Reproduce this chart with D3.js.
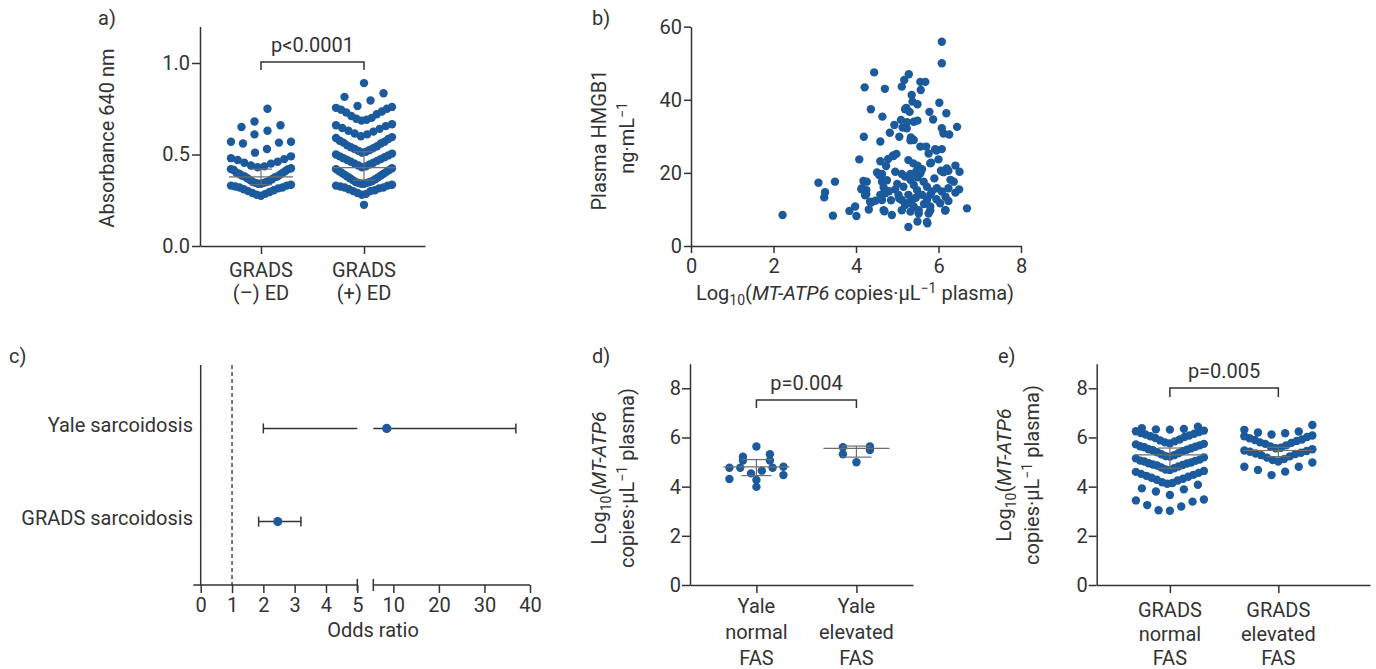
<!DOCTYPE html>
<html>
<head>
<meta charset="utf-8">
<script src="https://cdn.jsdelivr.net/npm/d3@7"></script>
<style>
  body { margin: 0; background: #fff; }
  svg text { font-family: Roboto, "DejaVu Sans", sans-serif; }
</style>
</head>
<body>
<div id="chart"></div>
<script>
// ---- panel a: absorbance per group
const absGroups = [["GRADS", "(\u2013) ED"], ["GRADS", "(+) ED"]];
const absNegED = [0.75, 0.68, 0.66, 0.65, 0.63, 0.61, 0.57, 0.57, 0.565, 0.56, 0.53, 0.51, 0.49, 0.48,
  0.475, 0.47, 0.46, 0.455, 0.45, 0.44, 0.435, 0.43, 0.425, 0.42, 0.42,
  0.415, 0.41, 0.40, 0.40, 0.395, 0.39, 0.385, 0.38, 0.38, 0.375,
  0.37, 0.365, 0.36, 0.355, 0.35, 0.35, 0.345, 0.345, 0.34, 0.34,
  0.335, 0.33, 0.33, 0.325, 0.32, 0.32, 0.315, 0.31,
  0.305, 0.30, 0.295, 0.29, 0.285, 0.28, 0.275];
const absPosED = [0.89, 0.835, 0.815, 0.795, 0.755,
  0.765, 0.76, 0.75, 0.745, 0.735, 0.73, 0.72, 0.71, 0.70, 0.695, 0.69, 0.685,
  0.665, 0.66, 0.655, 0.645, 0.64, 0.63, 0.625, 0.615, 0.61, 0.60, 0.595, 0.59, 0.585,
  0.575, 0.57, 0.565, 0.56, 0.55, 0.545, 0.54, 0.535, 0.53, 0.525, 0.52, 0.515, 0.51,
  0.505, 0.50, 0.495, 0.49, 0.485, 0.48, 0.475, 0.47, 0.465, 0.46, 0.455, 0.45, 0.445,
  0.44, 0.435, 0.43, 0.425, 0.42, 0.415, 0.41, 0.405, 0.40, 0.395, 0.39, 0.385,
  0.38, 0.375, 0.37, 0.365, 0.36, 0.355, 0.35, 0.35, 0.345, 0.345, 0.34, 0.34,
  0.335, 0.33, 0.33, 0.325, 0.32, 0.32, 0.315, 0.31, 0.305, 0.30,
  0.29, 0.285, 0.28, 0.30, 0.225];
const absMedian = [0.378, 0.428];
const absQ1 = [0.335, 0.36];
const absQ3 = [0.42, 0.515];
const absTicks = [0, 0.5, 1.0];

// ---- panel b: HMGB1 vs MT-ATP6 (x = log10 copies, y = ng/mL)
const hmgbPoints = [[2.22, 8.5], [3.09, 17.3], [3.25, 14.7], [3.23, 13.3], [3.49, 17.6], [3.44, 8.3],
  [3.84, 9.6], [3.98, 10.8], [4.01, 8.2], [4.08, 23.7], [4.21, 43.4], [4.19, 29.9], [4.13, 15.5],
  [4.18, 17.8], [4.25, 14.2], [4.31, 10.0], [4.36, 37.4], [4.44, 47.5], [4.37, 11.9], [4.59, 28.6],
  [4.64, 35.4], [4.70, 43.0], [4.56, 19.4], [4.63, 19.7], [4.67, 16.0], [4.59, 23.2], [4.73, 21.9],
  [4.82, 31.0], [4.93, 33.1], [4.87, 8.5], [4.69, 9.5], [4.91, 24.6], [4.98, 25.2], [5.05, 29.9],
  [5.09, 34.5], [5.11, 43.6], [5.17, 45.4], [5.28, 47.0], [5.19, 37.4], [5.30, 36.7], [5.35, 41.3],
  [5.37, 39.5], [5.49, 38.8], [5.56, 44.9], [5.68, 44.9], [5.57, 42.7], [5.40, 34.0], [5.49, 34.3],
  [5.13, 32.4], [5.23, 32.2], [5.33, 29.7], [5.40, 29.0], [5.56, 27.2], [5.70, 27.2], [5.78, 36.7],
  [5.87, 34.6], [6.02, 39.2], [6.08, 55.9], [6.08, 50.0], [6.19, 36.3], [6.08, 32.2], [6.12, 30.8],
  [6.26, 30.5], [6.45, 32.6], [6.08, 26.5], [5.95, 26.1], [5.76, 25.3], [6.00, 23.7], [5.80, 22.6],
  [6.41, 22.0], [6.51, 20.3], [6.20, 21.2], [6.06, 20.6], [6.69, 10.3], [5.27, 5.2], [5.49, 6.7],
  [5.73, 6.2], [5.76, 8.9], [5.80, 9.7], [6.16, 9.7], [6.24, 12.3], [6.41, 14.6], [6.50, 15.5],
  [6.37, 17.6], [6.24, 15.8],
  [5.22, 37.8], [5.24, 33.9], [5.32, 28.9], [5.92, 26.5], [5.82, 22.8], [4.78, 23.8], [4.90, 24.8],
  [5.27, 23.5], [5.39, 22.6], [5.49, 22.0], [5.60, 21.0], [5.46, 20.4], [5.32, 19.7], [6.12, 20.2],
  [6.24, 20.6], [4.95, 20.3], [5.11, 19.7], [5.19, 19.0], [4.51, 20.1], [4.63, 17.6], [4.26, 17.6],
  [4.14, 15.8], [4.25, 15.3], [4.22, 13.9], [4.34, 12.1], [4.47, 12.4], [4.59, 14.0], [4.71, 14.4],
  [4.63, 12.6], [4.67, 9.8], [4.95, 15.5], [5.03, 14.0], [5.11, 12.6], [5.19, 11.2], [5.11, 9.8],
  [5.32, 18.1], [5.40, 16.7], [5.49, 18.8], [5.56, 19.9], [5.64, 17.6], [5.72, 16.2], [5.48, 15.3],
  [5.27, 14.0], [5.36, 12.6], [5.24, 11.7], [5.40, 10.8], [5.52, 9.8], [5.52, 8.9], [5.32, 9.4],
  [5.60, 14.0], [5.72, 12.6], [5.80, 14.0], [5.84, 14.9], [5.96, 15.8], [6.08, 14.9], [6.17, 13.5],
  [5.80, 10.8], [6.04, 11.7], [6.17, 9.8], [5.72, 6.6], [6.29, 18.1],
  [5.00, 17.0], [5.15, 16.2], [5.05, 13.0], [4.85, 12.5], [4.80, 15.0], [5.65, 11.5], [5.90, 18.5],
  [5.95, 12.8], [4.75, 18.0], [5.45, 13.2]];
const hmgbXTicks = [0, 2, 4, 6, 8];
const hmgbYTicks = [0, 20, 40, 60];

// ---- panel c: odds ratios (broken axis 0-5 | 5.6-40)
const orCohorts = ["Yale sarcoidosis", "GRADS sarcoidosis"];
const orValue = [8.55, 2.46];
const orLow = [2.0, 1.85];
const orHigh = [36.9, 3.2];
const orTicksLow = [0, 1, 2, 3, 4, 5];
const orTicksHigh = [10, 20, 30, 40];

// ---- panel d: Yale FAS
const yaleGroups = [["Yale", "normal", "FAS"], ["Yale", "elevated", "FAS"]];
const yaleNormal = [5.63, 5.32, 5.22, 5.06, 5.06, 4.77, 4.77, 4.77, 4.81, 4.65, 4.54, 4.47, 4.27, 4.31, 3.99];
const yaleElevated = [5.49, 5.60, 5.63, 5.32, 4.99];
const yaleMedian = [4.8, 5.56];
const yaleQ1 = [4.45, 5.2];
const yaleQ3 = [5.1, 5.65];

// ---- panel e: GRADS FAS
const gradsGroups = [["GRADS", "normal", "FAS"], ["GRADS", "elevated", "FAS"]];
const gradsNormal = [6.44, 6.38, 6.33,
  6.35, 6.32, 6.28, 6.22, 6.18, 6.12, 6.08, 6.02, 5.98, 5.92, 5.88, 5.84, 5.80, 5.76, 6.25, 6.15, 6.05,
  5.74, 5.72, 5.68, 5.64, 5.60, 5.56, 5.52, 5.48, 5.44, 5.40, 5.36, 5.32, 5.28, 5.24, 5.22, 5.50, 5.62,
  5.19, 5.15, 5.10, 5.06, 5.02, 4.98, 4.94, 4.90, 4.86, 4.82, 4.78, 4.75, 5.05, 4.95, 4.88,
  4.70, 4.68, 4.64, 4.60, 4.56, 4.52, 4.48, 4.44, 4.40, 4.36, 4.32, 4.28, 4.25,
  4.18, 4.15, 4.12, 4.08, 3.93, 3.89, 3.80, 3.66,
  3.48, 3.44, 3.39, 3.25, 3.19, 3.04, 3.02];
const gradsElevated = [6.51, 6.31, 6.24,
  6.20, 6.17, 6.12, 6.08, 6.02, 5.97, 5.92, 5.86, 5.80, 5.74, 5.68, 5.63, 6.05, 5.90, 5.78,
  5.58, 5.56, 5.52, 5.47, 5.42, 5.38, 5.33, 5.28, 5.23, 5.18, 5.12, 5.08, 5.35, 5.45,
  5.02, 4.98, 4.81, 4.81, 4.68, 4.61, 4.47];
const gradsMedian = [5.29, 5.47];
const gradsQ1 = [4.75, 5.22];
const gradsQ3 = [5.57, 5.6];

const fasTicks = [0, 2, 4, 6, 8];

const dotColor = "#1b5a9c";
const ink = "#333333";
const summaryColor = "#6e6e6e";
const fontSize = 20;
const smallSize = 14;

const svg = d3.select("#chart").append("svg")
  .attr("width", 1376)
  .attr("height", 669);

function styleAxis(g) {
  g.selectAll(".domain, .tick line").attr("stroke", ink).attr("stroke-width", 1.5);
  g.selectAll(".tick text")
    .attr("font-size", fontSize)
    .attr("fill", ink)
    .attr("font-family", "Roboto, sans-serif");
}

// GraphPad-like column scatter: bin values, spread each bin outward from centre
function swarm(values, binSize, origin, maxWidth, maxStep) {
  const out = [];
  d3.groups(values, v => Math.floor((v - origin) / binSize)).forEach(([, vs]) => {
    vs = vs.slice().sort(d3.ascending);
    const n = vs.length;
    const step = n > 1 ? Math.min(maxStep, maxWidth / (n - 1)) : 0;
    const slots = d3.range(n).map(i => (i - (n - 1) / 2) * step)
      .sort((a, b) => Math.abs(a) - Math.abs(b) || a - b);
    vs.forEach((v, i) => out.push({ v: v, dx: slots[i] }));
  });
  return out;
}

function panelLetter(txt, x, y) {
  svg.append("text").attr("x", x).attr("y", y)
    .attr("font-size", fontSize).attr("fill", ink).text(txt);
}

// rotated two-line title for MT-ATP6 axes
function atp6Title(x1, x2, cy) {
  const t1 = svg.append("text")
    .attr("transform", `translate(${x1},${cy}) rotate(-90)`)
    .attr("text-anchor", "middle").attr("font-size", fontSize).attr("fill", ink);
  t1.append("tspan").text("Log");
  t1.append("tspan").attr("font-size", smallSize).attr("dy", 5).text("10");
  t1.append("tspan").attr("dy", -5).text("(");
  t1.append("tspan").attr("font-style", "italic").text("MT-ATP6");
  const t2 = svg.append("text")
    .attr("transform", `translate(${x2},${cy}) rotate(-90)`)
    .attr("text-anchor", "middle").attr("font-size", fontSize).attr("fill", ink);
  t2.append("tspan").text("copies\u00b7\u00b5L");
  t2.append("tspan").attr("font-size", smallSize).attr("dy", -7).text("\u22121");
  t2.append("tspan").attr("dy", 7).text(" plasma)");
}

function columnPanel(cfg) {
  const g = svg.append("g");
  const keys = cfg.labels.map((d, i) => "g" + i);
  const x = d3.scalePoint().domain(keys).range(cfg.xRange).padding(cfg.pad).align(cfg.align);
  const y = d3.scaleLinear().domain(cfg.yDomain).range(cfg.yRange);

  g.append("g")
    .attr("transform", `translate(${cfg.xRange[0]},0)`)
    .call(d3.axisLeft(y).tickValues(cfg.yTicks).tickFormat(cfg.fmt)
      .tickSize(8).tickSizeOuter(0).tickPadding(cfg.yPad))
    .call(styleAxis);

  g.append("g")
    .attr("transform", `translate(0,${cfg.yRange[0]})`)
    .call(d3.axisBottom(x).tickSize(8).tickSizeOuter(0).tickFormat(""))
    .call(styleAxis);

  cfg.labels.forEach((lines, i) => {
    const t = g.append("text").attr("text-anchor", "middle")
      .attr("font-size", fontSize).attr("fill", ink);
    lines.forEach((ln, j) => {
      t.append("tspan").attr("x", x(keys[i]))
        .attr("y", cfg.labelY + j * cfg.lineH).text(ln);
    });
  });

  cfg.series.forEach((vals, i) => {
    const pts = swarm(vals, cfg.bin, cfg.origin[i], cfg.maxWidth[i], cfg.maxStep);
    g.append("g").selectAll("circle")
      .data(pts)
      .join("circle")
      .attr("cx", d => x(keys[i]) + d.dx)
      .attr("cy", d => y(d.v))
      .attr("r", cfg.r)
      .attr("fill", dotColor);
  });

  // median with interquartile range
  keys.forEach((k, i) => {
    const cx = x(k);
    const s = g.append("g").attr("stroke", summaryColor).attr("stroke-width", 1.2);
    s.append("line").attr("x1", cx - cfg.medHalf).attr("x2", cx + cfg.medHalf)
      .attr("y1", y(cfg.median[i])).attr("y2", y(cfg.median[i]));
    s.append("line").attr("x1", cx).attr("x2", cx)
      .attr("y1", y(cfg.q1[i])).attr("y2", y(cfg.q3[i]));
    [cfg.q1[i], cfg.q3[i]].forEach(q => {
      s.append("line").attr("x1", cx - cfg.capHalf).attr("x2", cx + cfg.capHalf)
        .attr("y1", y(q)).attr("y2", y(q));
    });
  });

  // significance bracket
  const bx1 = x(keys[0]), bx2 = x(keys[1]);
  g.append("path")
    .attr("d", `M${bx1},${cfg.bracketY + cfg.leg}V${cfg.bracketY}H${bx2}V${cfg.bracketY + cfg.leg}`)
    .attr("fill", "none").attr("stroke", ink).attr("stroke-width", 1.5);
  g.append("text").attr("x", (bx1 + bx2) / 2).attr("y", cfg.pY)
    .attr("text-anchor", "middle").attr("font-size", fontSize).attr("fill", ink)
    .text(cfg.pText);
}

// ---------------- panel a
panelLetter("a)", 98, 25);
columnPanel({
  labels: absGroups, series: [absNegED, absPosED],
  median: absMedian, q1: absQ1, q3: absQ3,
  xRange: [200, 425], pad: 0.592, align: 0.5,
  yDomain: [0, 1.2], yRange: [246, 26.4], yTicks: absTicks, fmt: d3.format(".1f"), yPad: 2,
  bin: 0.085, origin: [0.255, 0.255], maxWidth: [60, 56], maxStep: 13, r: 4.2,
  medHalf: 32, capHalf: 11,
  labelY: 277, lineH: 23,
  bracketY: 62, leg: 8, pY: 52, pText: "p<0.0001"
});
svg.append("text")
  .attr("transform", "translate(114,138) rotate(-90)")
  .attr("text-anchor", "middle").attr("font-size", fontSize).attr("fill", ink)
  .text("Absorbance 640 nm");

// ---------------- panel b
panelLetter("b)", 592, 25);
{
  const x = d3.scaleLinear().domain([0, 8]).range([691, 1021]);
  const y = d3.scaleLinear().domain([0, 60]).range([246, 26.7]);
  svg.append("g").attr("transform", "translate(0,246)")
    .call(d3.axisBottom(x).tickValues(hmgbXTicks).tickSize(7).tickSizeOuter(0).tickPadding(6))
    .call(styleAxis);
  svg.append("g").attr("transform", "translate(691,0)")
    .call(d3.axisLeft(y).tickValues(hmgbYTicks).tickSize(7).tickSizeOuter(0).tickPadding(2))
    .call(styleAxis);
  svg.append("g").selectAll("circle")
    .data(hmgbPoints)
    .join("circle")
    .attr("cx", d => x(d[0]))
    .attr("cy", d => y(d[1]))
    .attr("r", 4.2)
    .attr("fill", dotColor);

  svg.append("text").attr("transform", "translate(606,140) rotate(-90)")
    .attr("text-anchor", "middle").attr("font-size", fontSize).attr("fill", ink)
    .text("Plasma HMGB1");
  const t2 = svg.append("text").attr("transform", "translate(634,138) rotate(-90)")
    .attr("text-anchor", "middle").attr("font-size", fontSize).attr("fill", ink);
  t2.append("tspan").text("ng\u00b7mL");
  t2.append("tspan").attr("font-size", smallSize).attr("dy", -7).text("\u22121");

  const xt = svg.append("text").attr("x", 855).attr("y", 300)
    .attr("text-anchor", "middle").attr("font-size", fontSize).attr("fill", ink);
  xt.append("tspan").text("Log");
  xt.append("tspan").attr("font-size", smallSize).attr("dy", 5).text("10");
  xt.append("tspan").attr("dy", -5).text("(");
  xt.append("tspan").attr("font-style", "italic").text("MT-ATP6");
  xt.append("tspan").text(" copies\u00b7\u00b5L");
  xt.append("tspan").attr("font-size", smallSize).attr("dy", -7).text("\u22121");
  xt.append("tspan").attr("dy", 7).text(" plasma)");
}

// ---------------- panel c
panelLetter("c)", 9, 363);
{
  const lowX = d3.scaleLinear().domain([0, 5]).range([200.7, 357.3]);
  const highX = d3.scaleLinear().domain([5.6, 40]).range([373.3, 530]);
  const xb = v => (v <= 5 ? lowX(v) : highX(v));
  const y = d3.scalePoint().domain(orCohorts).range([365, 585]).padding(0.68);
  const axisY = 585;

  svg.append("g").attr("transform", `translate(0,${axisY})`)
    .call(d3.axisBottom(lowX).tickValues(orTicksLow).tickFormat(d3.format("d"))
      .tickSize(8).tickSizeOuter(0).tickPadding(5))
    .call(styleAxis)
    .call(g => g.select(".domain").remove());
  svg.append("g").attr("transform", `translate(0,${axisY})`)
    .call(d3.axisBottom(highX).tickValues(orTicksHigh).tickFormat(d3.format("d"))
      .tickSize(8).tickSizeOuter(0).tickPadding(5))
    .call(styleAxis)
    .call(g => g.select(".domain").remove());

  const ax = svg.append("g").attr("stroke", ink).attr("stroke-width", 1.5);
  ax.append("line").attr("x1", 193.3).attr("x2", lowX(5)).attr("y1", axisY).attr("y2", axisY);
  ax.append("line").attr("x1", lowX(5)).attr("x2", lowX(5)).attr("y1", axisY - 6).attr("y2", axisY + 6);
  ax.append("line").attr("x1", highX(5.6)).attr("x2", highX(40)).attr("y1", axisY).attr("y2", axisY);
  ax.append("line").attr("x1", highX(5.6)).attr("x2", highX(5.6)).attr("y1", axisY - 6).attr("y2", axisY + 6);
  ax.append("line").attr("x1", lowX(0)).attr("x2", lowX(0)).attr("y1", 365).attr("y2", axisY);
  svg.append("line").attr("x1", lowX(1)).attr("x2", lowX(1)).attr("y1", 365).attr("y2", axisY)
    .attr("stroke", ink).attr("stroke-width", 1.3).attr("stroke-dasharray", "4,3");

  svg.append("text").attr("x", 373).attr("y", 637)
    .attr("text-anchor", "middle").attr("font-size", fontSize).attr("fill", ink)
    .text("Odds ratio");

  orCohorts.forEach((c, i) => {
    const cy = y(c);
    svg.append("text").attr("x", 193).attr("y", cy).attr("dy", "0.17em")
      .attr("text-anchor", "end").attr("font-size", fontSize).attr("fill", ink).text(c);
    const e = svg.append("g").attr("stroke", ink).attr("stroke-width", 1.5);
    if (orHigh[i] > 5) {
      e.append("line").attr("x1", xb(orLow[i])).attr("x2", lowX(5)).attr("y1", cy).attr("y2", cy);
      e.append("line").attr("x1", highX(5.6)).attr("x2", xb(orHigh[i])).attr("y1", cy).attr("y2", cy);
    } else {
      e.append("line").attr("x1", xb(orLow[i])).attr("x2", xb(orHigh[i])).attr("y1", cy).attr("y2", cy);
    }
    [orLow[i], orHigh[i]].forEach(v => {
      e.append("line").attr("x1", xb(v)).attr("x2", xb(v)).attr("y1", cy - 5).attr("y2", cy + 5);
    });
    svg.append("circle").attr("cx", xb(orValue[i])).attr("cy", cy).attr("r", 4.6).attr("fill", dotColor);
  });
}

// ---------------- panel d
panelLetter("d)", 592, 363);
columnPanel({
  labels: yaleGroups, series: [yaleNormal, yaleElevated],
  median: yaleMedian, q1: yaleQ1, q3: yaleQ3,
  xRange: [690, 913], pad: 0.615, align: 0.54,
  yDomain: [0, 9], yRange: [585, 363.7], yTicks: fasTicks, fmt: d3.format("d"), yPad: 1,
  bin: 0.35, origin: [3.8, 3.8], maxWidth: [54, 54], maxStep: 27, r: 4.2,
  medHalf: 33, capHalf: 15,
  labelY: 613, lineH: 26,
  bracketY: 400, leg: 8, pY: 390, pText: "p=0.004"
});
atp6Title(606, 634, 478);

// ---------------- panel e
panelLetter("e)", 998, 363);
columnPanel({
  labels: gradsGroups, series: [gradsNormal, gradsElevated],
  median: gradsMedian, q1: gradsQ1, q3: gradsQ3,
  xRange: [1096.7, 1370], pad: 0.76, align: 0.444,
  yDomain: [0, 9], yRange: [585, 363.7], yTicks: fasTicks, fmt: d3.format("d"), yPad: 1,
  bin: 0.55, origin: [3.0, 4.45], maxWidth: [68, 68], maxStep: 14, r: 4.2,
  medHalf: 35, capHalf: 12,
  labelY: 617, lineH: 24,
  bracketY: 388, leg: 9, pY: 378, pText: "p=0.005"
});
atp6Title(1011, 1039, 475);
</script>
</body>
</html>
